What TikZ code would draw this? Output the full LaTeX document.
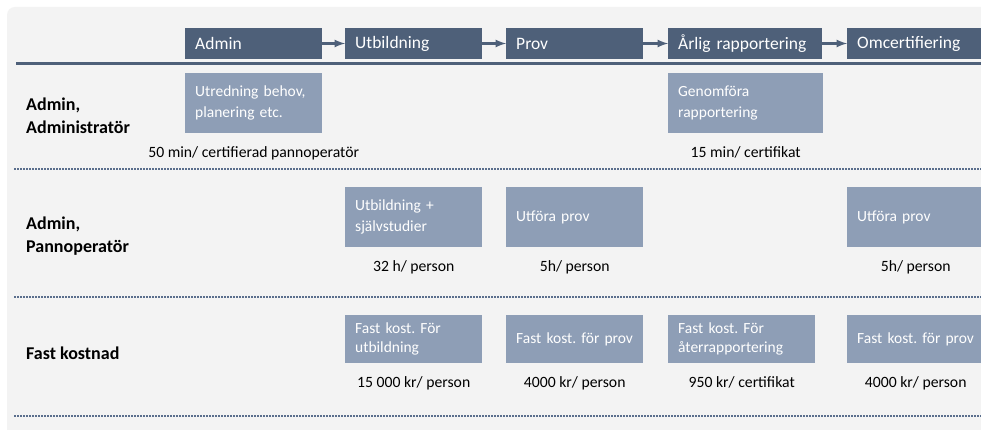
\documentclass[tikz,border=0pt]{standalone}
\usepackage{fontspec}
\setmainfont{Carlito}
\usepackage{tikz}
\usetikzlibrary{arrows}
\usetikzlibrary{positioning}
\definecolor{headcolor}{HTML}{4E6079}
\definecolor{taskcolor}{HTML}{8E9EB6}
\definecolor{dotcolor}{HTML}{5A6E8C}
\definecolor{bgcolor}{HTML}{F3F3F3}
\frenchspacing

\begin{document}
\begin{tikzpicture}[x=1pt,y=1pt,
  stage/.style={fill=headcolor,text=white,anchor=west,align=left,inner xsep=10pt,inner ysep=0pt,
    minimum height=31pt,text width=#1,font=\fontsize{17.5}{20}\selectfont},
  stage/.default=117pt,
  task/.style={fill=taskcolor,text=white,anchor=north west,align=left,inner xsep=10pt,inner ysep=0pt,
    minimum height=60pt,text width=#1,font=\fontsize{15.5}{21}\selectfont},
  task/.default=117pt,
  cost/.style={task=#1,minimum height=48pt,font=\fontsize{15.5}{19.5}\selectfont},
  cost/.default=117pt,
  rate/.style={inner sep=0pt,text height=11pt,text depth=3.5pt,font=\fontsize{15.7}{18}\selectfont},
  role/.style={anchor=west,align=left,inner sep=0pt,font=\fontsize{18}{23}\selectfont\bfseries},
  flow/.style={headcolor,line width=2.5pt,-latex},
  rowline/.style={dotcolor,line width=1.5pt,dash pattern=on 1.5pt off 1.5pt}]
  \useasboundingbox (0,0) rectangle (981,430);
  \fill [white] (0,0) rectangle (981,430);
  \fill [bgcolor,rounded corners=8pt] (7,423) rectangle (1000,-20);
%%\draw[step=10pt,color=black!20,dotted] (0,0) grid (981,430);
  % stages
  \node[stage] (admin) at (185,386.5) {Admin};
  \node[stage] (utb) at (345,386.5) {Utbildning};
  \node[stage] (prov) at (506,386.5) {Prov};
  \node[stage=134pt] (arlig) at (668,386.5) {Årlig rapportering};
  \node[stage] (omcert) at (847,386.5) {Omcertifiering};
\foreach \a/\b in {admin/utb, utb/prov, prov/arlig, arlig/omcert}
    \draw[flow] (\a) -- (\b);
  \draw [headcolor,line width=3pt] (16,366) -- (981,366);
  % roles
  \node[role] (radmin) at (26,314) {Admin,\\Administratör};
  \node[role] (rpanna) at (26,194) {Admin,\\Pannoperatör};
  \node[role] (rfast) at (26,77) {Fast kostnad};
  % row 1
  \node[task] (utredning) at (185,357) {Utredning behov,\\planering etc.};
  \node[task=135pt] (genomfora) at (668,357) {Genomföra\\rapportering};
  \node[rate,below=13pt of utredning] (t1) {50 min/ certifierad pannoperatör};
  \node[rate,below=13pt of genomfora] (t2) {15 min/ certifikat};
  % row 2
  \node[task] (sjalv) at (345,243) {Utbildning +\\självstudier};
  \node[task] (utfora) at (506,243) {Utföra prov};
  \node[task] (utfora2) at (847,243) {Utföra prov};
  \node[rate,below=13pt of sjalv] (t3) {32 h/ person};
  \node[rate,below=13pt of utfora] (t4) {5h/ person};
  \node[rate,below=13pt of utfora2] (t5) {5h/ person};
  % row 3
  \node[cost] (kutb) at (345,115) {Fast kost. För\\utbildning};
  \node[cost] (kprov) at (506,115) {Fast kost. för prov};
  \node[cost=127pt] (kater) at (668,115) {Fast kost. För\\återrapportering};
  \node[cost] (kprov2) at (847,115) {Fast kost. för prov};
  \node[rate,below=13pt of kutb] (t6) {15 000 kr/ person};
  \node[rate,below=13pt of kprov] (t7) {4000 kr/ person};
  \node[rate,below=13pt of kater] (t8) {950 kr/ certifikat};
  \node[rate,below=13pt of kprov2] (t9) {4000 kr/ person};
\foreach \y in {261,133,14}
    \draw[rowline] (14,\y) -- (981,\y);
\end{tikzpicture}
\end{document}
